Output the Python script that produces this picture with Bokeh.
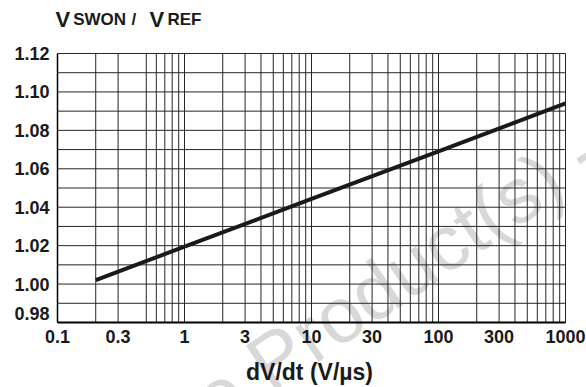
import math
from bokeh.plotting import figure
from bokeh.models import (FixedTicker, Label, CustomJSTickFormatter,
                          LinearAxis, LogAxis, Range1d)
from bokeh.embed import file_html
from bokeh.resources import INLINE

# ---- data ----
dvdt = [0.2, 1, 10, 100, 1000]
vswon_vref = [1.002, 1.0195, 1.0443, 1.069, 1.094]

x_tick_labels = [0.1, 0.3, 1, 3, 10, 30, 100, 300, 1000]
x_grid_vals = [0.2, 0.3, 0.5, 0.6, 0.7, 0.8, 0.9,
               1, 2, 3, 4, 5, 6, 7, 8, 9,
               10, 20, 30, 40, 50, 60, 70, 80, 90,
               100, 200, 300, 400, 500, 600, 700, 800, 900, 1000]
y_tick_labels = [0.98, 1.00, 1.02, 1.04, 1.06, 1.08, 1.10, 1.12]
y_grid_vals = [0.98, 0.99, 1.00, 1.01, 1.02, 1.03, 1.04, 1.05, 1.06,
               1.07, 1.08, 1.09, 1.10, 1.11, 1.12]
x_title = "dV/dt (V/µs)"
# title "VSWON / VREF" in small-caps style: (text, large letter?)
title_pieces = [("V", True), ("SWON", False), ("/", False), ("V", True), ("REF", False)]
watermark = "Obsolete Product(s) -"

FONT = "Liberation Sans"
INK = "#1a1a1a"
X0, X1 = 0.1, 1000
Y0, Y1 = 0.98, 1.12

# ---- layout geometry (pixels) ----
W, H = 586, 387
F_LEFT, F_RIGHT, F_TOP, F_BOTTOM = 57, 565, 53, 322
dec = math.log10(X1) - math.log10(X0)
px_per_dec = (F_RIGHT - F_LEFT) / dec
val_per_px = (Y1 - Y0) / (F_BOTTOM - F_TOP)
x_lo = 10 ** (math.log10(X0) - F_LEFT / px_per_dec)
x_hi = 10 ** (math.log10(X1) + (W - F_RIGHT) / px_per_dec)
y_lo = Y0 - (H - F_BOTTOM) * val_per_px
y_hi = Y1 + F_TOP * val_per_px

p = figure(width=W, height=H, x_axis_type="log",
           x_axis_location=None, y_axis_location=None,
           x_range=Range1d(x_lo, x_hi), y_range=Range1d(y_lo, y_hi),
           min_border=0, output_backend="svg", toolbar_location=None)
p.background_fill_color = "white"
p.border_fill_color = "white"
p.outline_line_color = None
p.grid.visible = False

# watermark (behind everything)
p.add_layout(Label(x=10 ** (math.log10(X0) + (593 - F_LEFT) / px_per_dec),
                   y=Y1 - (143 - F_TOP) * val_per_px, text=watermark,
                   angle=math.radians(34), text_align="right",
                   text_baseline="alphabetic", text_font=FONT,
                   text_font_size="78px", text_color="#d8d8d8", level="image"))

# grid lines bounded to the chart box
GRID = "#262626"
p.segment(x0=x_grid_vals, y0=[Y0] * len(x_grid_vals),
          x1=x_grid_vals, y1=[Y1] * len(x_grid_vals),
          line_color=GRID, line_width=1)
p.segment(x0=[X0] * len(y_grid_vals), y0=y_grid_vals,
          x1=[X1] * len(y_grid_vals), y1=y_grid_vals,
          line_color=GRID, line_width=1)

# curve
p.line(dvdt, vswon_vref, line_width=4, line_color=INK)


def style_axis(ax):
    ax.major_tick_in = 0
    ax.major_tick_out = 0
    ax.minor_tick_in = 0
    ax.minor_tick_out = 0
    ax.axis_line_color = "black"
    ax.major_label_text_font = FONT
    ax.major_label_text_font_style = "bold"
    ax.major_label_text_font_size = "18px"
    ax.major_label_text_color = INK


xax = LogAxis(fixed_location=Y0, bounds=(X0, X1),
              ticker=FixedTicker(ticks=x_tick_labels, minor_ticks=[]),
              formatter=CustomJSTickFormatter(code="return String(Math.round(tick*10)/10);"))
style_axis(xax)
xax.axis_line_width = 2
xax.major_label_standoff = 7
p.add_layout(xax, "below")

# the lowest label (0.98) sits a little above its line, as in the original
lift = 9 * val_per_px
y_tick_pos = [v + lift if v == Y0 else v for v in y_tick_labels]
yax = LinearAxis(fixed_location=X0, bounds=(Y0, Y1),
                 ticker=FixedTicker(ticks=y_tick_pos, minor_ticks=[]),
                 formatter=CustomJSTickFormatter(
                     args=dict(labels=[f"{v:.2f}" for v in y_tick_labels]),
                     code="return labels[index];"))
style_axis(yax)
yax.axis_line_width = 1.5
yax.major_label_standoff = 8
p.add_layout(yax, "left")

# title in small-caps style
piece_left_px = [-2, 15.7, 74, 92, 110]
for (txt, big), xo in zip(title_pieces, piece_left_px):
    p.add_layout(Label(x=X0, y=Y1, text=txt, x_offset=xo, y_offset=34,
                       text_align="left", text_baseline="alphabetic",
                       text_font=FONT, text_font_style="bold",
                       text_font_size="22px" if big else "17px", text_color=INK))

# x axis title
p.add_layout(Label(x=10 ** ((math.log10(X0) + math.log10(X1)) / 2), y=Y0,
                   text=x_title, x_offset=-2, y_offset=-49,
                   text_align="center", text_baseline="alphabetic",
                   text_font=FONT, text_font_style="bold",
                   text_font_size="23px", text_color=INK))

open("out.html", "w").write(file_html(p, INLINE))
